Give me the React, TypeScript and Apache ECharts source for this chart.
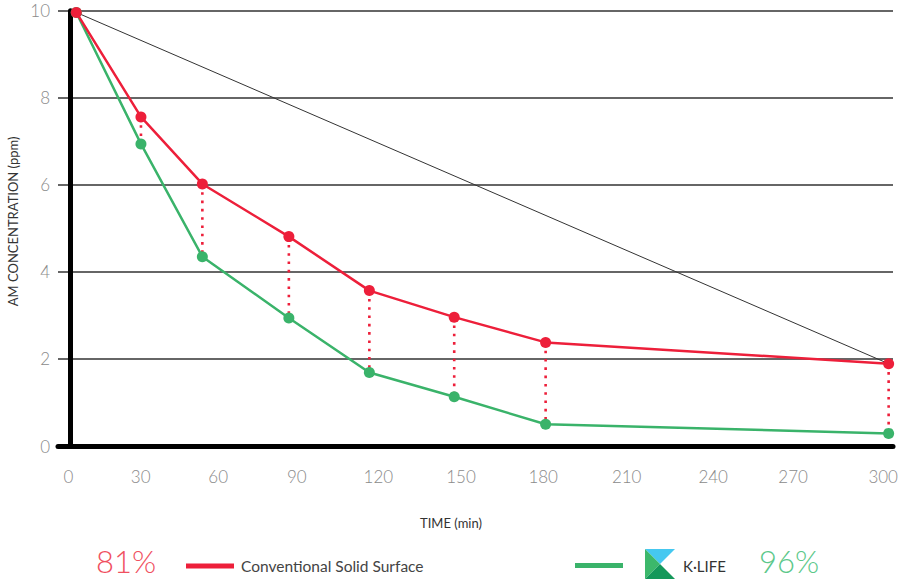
import React, { useEffect, useRef } from "react";
import * as echarts from "echarts";

// x positions on the time axis and their labels
const timeTickPositions = [-0.6, 25.9, 54.3, 83.1, 113.0, 143.3, 173.4, 204.0, 235.7, 265.0, 298.0];
const timeTickLabels = ["0", "30", "60", "90", "120", "150", "180", "210", "240", "270", "300"];

// sample times (as placed on the axis) and concentrations
const sampleTimes = [2.3, 26.0, 48.5, 80.2, 109.7, 140.8, 174.3, 300];
const conventional = [9.96, 7.56, 6.02, 4.81, 3.57, 2.96, 2.38, 1.89];
const klife = [9.96, 6.94, 4.35, 2.94, 1.69, 1.13, 0.5, 0.29];

const seriesNames = ["Conventional Solid Surface", "K·LIFE"];
const reductions = ["81%", "96%"];

const RED = "#ed1f3a";
const GREEN = "#3ab36a";
const FONT = "Lato, 'Open Sans', sans-serif";

export default function App() {
  const ref = useRef<HTMLDivElement>(null);

  useEffect(() => {
    document.body.style.margin = "0";
    const chart = echarts.init(ref.current!, null, { renderer: "svg" });

    const redData = sampleTimes.map((t, i) => [t, conventional[i]]);
    const greenData = sampleTimes.map((t, i) => [t, klife[i]]);
    const gapData = sampleTimes.slice(1).map((t, i) => [t, conventional[i + 1], klife[i + 1]]);
    const last = sampleTimes.length - 1;

    chart.setOption({
      animation: false,
      grid: {
        left: 58,
        right: 10,
        top: 10.7,
        bottom: 133,
        containLabel: false,
        outerBoundsMode: "none",
      },
      xAxis: {
        type: "value",
        min: -4.4,
        max: 301.6,
        name: "TIME (min)",
        nameLocation: "middle",
        nameGap: 70,
        nameTextStyle: { fontFamily: FONT, fontSize: 13, color: "#333", padding: [0, 49, 0, 0] },
        axisLine: { show: true, lineStyle: { color: "#000", width: 5 } },
        axisTick: { show: false },
        splitLine: { show: false },
        axisLabel: {
          customValues: timeTickPositions,
          formatter: (v: number) => {
            const i = timeTickPositions.findIndex((p) => Math.abs(p - v) < 1e-6);
            return i >= 0 ? timeTickLabels[i] : "";
          },
          margin: 22,
          fontFamily: FONT,
          fontWeight: 300,
          fontSize: 17,
          color: "#8a8a8a",
        },
      },
      yAxis: {
        type: "value",
        min: 0,
        max: 10,
        interval: 2,
        name: "AM CONCENTRATION (ppm)",
        nameLocation: "middle",
        nameGap: 36,
        nameTextStyle: { fontFamily: FONT, fontSize: 13, color: "#333", padding: [0, 0, 0, 14] },
        axisLine: { show: true, onZero: true, lineStyle: { color: "#000", width: 5 } },
        axisTick: { show: false },
        splitLine: { show: true, lineStyle: { color: "#666", width: 2 } },
        axisLabel: {
          margin: 8,
          fontFamily: FONT,
          fontWeight: 300,
          fontSize: 17,
          color: "#8a8a8a",
        },
      },
      legend: [
        {
          data: [seriesNames[0]],
          left: 181,
          top: 553,
          icon: "rect",
          itemWidth: 48,
          itemHeight: 5,
          selectedMode: false,
          textStyle: { fontFamily: FONT, fontSize: 15.5, color: "#444", padding: [0, 0, 0, 2] },
        },
        {
          data: [seriesNames[1]],
          left: 570,
          top: 553,
          icon: "rect",
          itemWidth: 48,
          itemHeight: 5,
          selectedMode: false,
          textStyle: { fontFamily: FONT, fontSize: 15, color: "#333", padding: [0, 0, 0, 55] },
        },
      ],
      graphic: [
        {
          type: "text",
          left: 96,
          top: 545,
          style: { text: reductions[0], fontFamily: FONT, fontWeight: 300, fontSize: 31, fill: "#f0505f" },
        },
        {
          type: "text",
          left: 759,
          top: 545,
          style: { text: reductions[1], fontFamily: FONT, fontWeight: 300, fontSize: 31, fill: "#5cc88a" },
        },
        {
          type: "group",
          left: 645,
          top: 549,
          children: [
            { type: "polygon", shape: { points: [[0, 0], [30, 0], [15, 15]] }, style: { fill: "#45c8f0" } },
            { type: "polygon", shape: { points: [[0, 0], [15, 15], [0, 30]] }, style: { fill: "#3cb86b" } },
            { type: "polygon", shape: { points: [[0, 30], [15, 15], [30, 30]] }, style: { fill: "#14985a" } },
          ],
        },
      ],
      series: [
        {
          type: "line",
          name: "reference",
          data: [redData[0], redData[last]],
          symbol: "none",
          lineStyle: { color: "#333", width: 1 },
          z: 1,
          silent: true,
        },
        {
          type: "custom",
          name: "gap",
          data: gapData,
          z: 2,
          renderItem: (params: any, api: any) => {
            const p1 = api.coord([api.value(0), api.value(1)]);
            const p2 = api.coord([api.value(0), api.value(2)]);
            return {
              type: "line",
              shape: { x1: p1[0], y1: p1[1], x2: p2[0], y2: p2[1] },
              style: { stroke: RED, lineWidth: 2.6, lineDash: [2.6, 5.7] },
            };
          },
        },
        {
          type: "line",
          name: seriesNames[1],
          data: greenData,
          color: GREEN,
          symbol: "circle",
          symbolSize: 11,
          lineStyle: { color: GREEN, width: 2.5 },
          itemStyle: { color: GREEN },
          z: 3,
        },
        {
          type: "line",
          name: seriesNames[0],
          data: redData,
          color: RED,
          symbol: "circle",
          symbolSize: 11,
          lineStyle: { color: RED, width: 2.5 },
          itemStyle: { color: RED },
          z: 4,
        },
      ],
    });

    return () => chart.dispose();
  }, []);

  return <div ref={ref} style={{ width: 903, height: 579 }} />;
}
